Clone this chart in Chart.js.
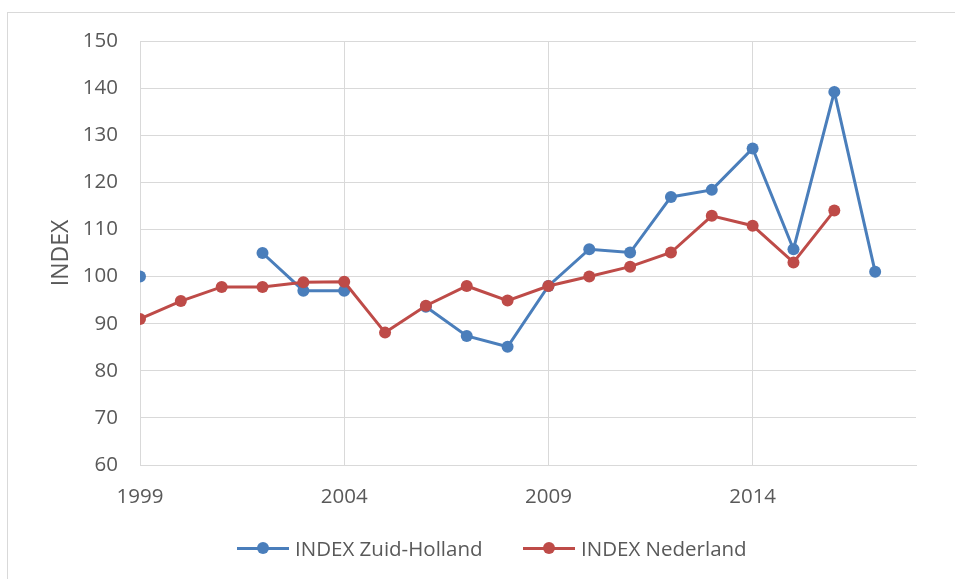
<!DOCTYPE html>
<html>
<head>
<meta charset="utf-8">
<script src="https://cdn.jsdelivr.net/npm/chart.js@4/dist/chart.umd.min.js"></script>
<style>
  html, body { margin: 0; padding: 0; background: #fff; }
  #wrap { position: relative; width: 955px; height: 579px; overflow: hidden; font-family: "Open Sans", sans-serif; }
  #frame { position: absolute; left: 7px; top: 12px; width: 960px; height: 600px; border-left: 1px solid #d9d9d9; border-top: 1px solid #d9d9d9; }
  #c { position: absolute; left: 0; top: 0; }
  #legend { position: absolute; left: 0; top: 535px; width: 955px; height: 26px; }
  .item { position: absolute; top: 0; height: 26px; display: flex; align-items: center; color: #595959; font-size: 20.5px; }
  .mark { position: relative; width: 52px; height: 26px; margin-right: 6px; }
  .mark .ln { position: absolute; left: 0; top: 11.5px; width: 52px; height: 3px; }
  .mark .dt { position: absolute; left: 20px; top: 7px; width: 12px; height: 12px; border-radius: 50%; }
</style>
</head>
<body>
<div id="wrap">
  <div id="frame"></div>
  <canvas id="c" width="955" height="579"></canvas>
  <div id="legend"></div>
</div>
<script>
const years = [1999,2000,2001,2002,2003,2004,2005,2006,2007,2008,2009,2010,2011,2012,2013,2014,2015,2016,2017];
const zuidHolland = [100,null,null,105,97,97,null,93.6,87.4,85.1,98,105.8,105.1,116.9,118.4,127.2,105.8,139.2,101];
const nederland = [91,94.8,97.8,97.8,98.8,98.9,88.1,93.8,98,94.9,98,100,102.1,105.1,112.9,110.8,103,114,null];
const xTicks = [1999,2004,2009,2014];
const seriesNames = ["INDEX Zuid-Holland","INDEX Nederland"];
const blue = "#4a7ebb", red = "#be4b48";
const textColor = "#595959", gridColor = "#d9d9d9";
const FONT = { family: "Open Sans", size: 20.5 };

function pts(arr) { return years.map((y, i) => ({ x: y, y: arr[i] })); }

new Chart(document.getElementById("c"), {
  type: "line",
  data: {
    datasets: [
      { label: seriesNames[0], data: pts(zuidHolland), borderColor: blue, backgroundColor: blue,
        borderWidth: 3, pointRadius: 6, pointHoverRadius: 6, pointBorderWidth: 0, spanGaps: false, order: 1, tension: 0 },
      { label: seriesNames[1], data: pts(nederland), borderColor: red, backgroundColor: red,
        borderWidth: 3, pointRadius: 6, pointHoverRadius: 6, pointBorderWidth: 0, spanGaps: false, order: 0, tension: 0 }
    ]
  },
  options: {
    responsive: false,
    animation: false,
    layout: { padding: { left: 44, right: 39, top: 41, bottom: 0 } },
    plugins: { legend: { display: false }, tooltip: { enabled: false } },
    scales: {
      x: {
        type: "linear", min: 1999, max: 2018,
        afterBuildTicks: (s) => { s.ticks = xTicks.map(v => ({ value: v })); },
        afterFit: (s) => { s.height = 114; },
        ticks: { color: textColor, font: FONT, padding: 20, maxRotation: 0, callback: (v) => String(v) },
        grid: { color: gridColor, lineWidth: 1, drawTicks: false },
        border: { color: gridColor, width: 1 }
      },
      y: {
        min: 60, max: 150,
        afterFit: (s) => { s.width = 96; },
        ticks: { stepSize: 10, color: textColor, font: FONT, padding: 22 },
        grid: { color: gridColor, lineWidth: 1, drawTicks: false },
        border: { display: false },
        title: { display: true, text: "INDEX", color: textColor, font: { family: "Open Sans", size: 23 }, padding: { top: 4, bottom: 4 } }
      }
    }
  }
});

const legend = document.getElementById("legend");
const lefts = [237, 523];
[blue, red].forEach((col, i) => {
  const it = document.createElement("div");
  it.className = "item";
  it.style.left = lefts[i] + "px";
  it.innerHTML = '<div class="mark"><div class="ln" style="background:' + col + '"></div><div class="dt" style="background:' + col + '"></div></div><span>' + seriesNames[i] + '</span>';
  legend.appendChild(it);
});
</script>
</body>
</html>
